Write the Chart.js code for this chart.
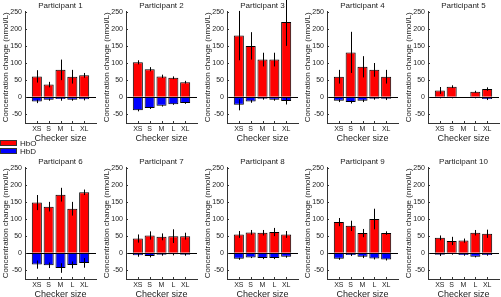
<!DOCTYPE html>
<html lang="en">
<head>
  <meta charset="UTF-8">
  <title>Checker size responses</title>
  <script src="https://cdn.jsdelivr.net/npm/chart.js"></script>
  <style>
    body {
      margin: 0;
      width: 501px;
      height: 297px;
      overflow: hidden;
      background: #fff;
      position: relative;
      font-family: 'Liberation Sans', Arial, sans-serif;
    }
    canvas { position: absolute; }
    #legend {
      position: absolute;
      left: 0;
      top: 139px;
      font-size: 8px;
      color: #222;
      z-index: 2;
    }
    #legend div { display: flex; align-items: center; height: 8px; }
    #legend span { display: inline-block; width: 17px; height: 6px; margin-right: 3px; box-sizing: border-box; border: 1px solid #333; }
  </style>
</head>
<body>
  <div id="legend">
    <div><span style="background:#ff0000"></span>HbO</div>
    <div><span style="background:#0000ff"></span>HbD</div>
  </div>
  <script>
    const categories = ['XS', 'S', 'M', 'L', 'XL'];
    const participants = ['Participant 1', 'Participant 2', 'Participant 3', 'Participant 4', 'Participant 5',
                          'Participant 6', 'Participant 7', 'Participant 8', 'Participant 9', 'Participant 10'];
    const yTicks = [-50, 0, 50, 100, 150, 200, 250];

    // one row per participant, one column per checker size
    const hboMean = [
      [61, 37, 80, 60, 64],
      [102, 82, 61, 57, 44],
      [180, 150, 110, 110, 220],
      [60, 131, 89, 80, 60],
      [20, 31, 0, 16, 24],
      [148, 136, 171, 130, 178],
      [43, 52, 48, 50, 50],
      [55, 61, 60, 62, 55],
      [91, 80, 59, 100, 59],
      [45, 36, 37, 60, 57]
    ];
    const hboErr = [
      [18, 8, 30, 20, 7],
      [6, 6, 5, 4, 4],
      [72, 40, 20, 20, 70],
      [20, 60, 31, 20, 20],
      [10, 4, 0, 3, 5],
      [22, 14, 20, 20, 8],
      [12, 12, 10, 20, 10],
      [10, 7, 8, 12, 10],
      [12, 15, 12, 30, 5],
      [7, 12, 6, 8, 12]
    ];
    const hbdMean = [
      [-12, -7, -5, -7, -6],
      [-38, -31, -25, -20, -17],
      [-22, -12, -4, -7, -11],
      [-10, -14, -10, -4, -4],
      [-2, -2, 0, -2, -5],
      [-33, -35, -43, -34, -28],
      [-6, -8, -4, -3, -4],
      [-16, -12, -14, -14, -10],
      [-16, -5, -10, -15, -18],
      [-4, -2, -5, -10, -5]
    ];
    const hbdErr = [
      [5, 3, 5, 3, 3],
      [3, 3, 2, 2, 2],
      [16, 4, 3, 3, 10],
      [4, 4, 4, 3, 4],
      [1, 1, 0, 1, 3],
      [12, 8, 14, 10, 14],
      [4, 4, 3, 3, 3],
      [3, 2, 3, 3, 3],
      [3, 3, 4, 3, 3],
      [4, 2, 2, 2, 2]
    ];

    const panelLeft = [0, 101, 202, 302, 403];
    const rowTop = [0, 156];
    const font = "'Liberation Sans', Arial, sans-serif";
    const ink = '#222';

    // pad with empty slots so the axis runs from 0 to 6 like the original
    const pad = arr => [null, ...arr, null];

    const errorBars = {
      id: 'errorBars',
      afterDatasetsDraw(chart) {
        const { ctx, scales: { x, y } } = chart;
        ctx.save();
        ctx.strokeStyle = '#000';
        ctx.lineWidth = 1;
        chart.data.datasets.forEach(ds => {
          ds.errors.forEach((e, i) => {
            const v = ds.data[i];
            if (v == null || !e) return;
            const px = Math.round(x.getPixelForValue(i)) + 0.5;
            ctx.beginPath();
            ctx.moveTo(px, y.getPixelForValue(v - e));
            ctx.lineTo(px, y.getPixelForValue(v + e));
            ctx.stroke();
          });
        });
        ctx.restore();
      }
    };

    // matlab style ticks pointing into the axes
    const innerTicks = {
      id: 'innerTicks',
      afterDraw(chart) {
        const { ctx, chartArea: a, scales: { x, y } } = chart;
        ctx.save();
        ctx.strokeStyle = '#333';
        ctx.lineWidth = 1;
        ctx.beginPath();
        categories.forEach((c, i) => {
          const px = Math.round(x.getPixelForValue(i + 1)) + 0.5;
          ctx.moveTo(px, a.bottom);
          ctx.lineTo(px, a.bottom - 2);
        });
        yTicks.forEach(v => {
          const py = Math.round(y.getPixelForValue(v)) + 0.5;
          ctx.moveTo(a.left, py);
          ctx.lineTo(a.left + 2, py);
        });
        ctx.stroke();
        ctx.restore();
      }
    };

    participants.forEach((name, p) => {
      const canvas = document.createElement('canvas');
      canvas.width = 100;
      canvas.height = 144;
      canvas.style.left = panelLeft[p % 5] + 'px';
      canvas.style.top = rowTop[Math.floor(p / 5)] + 'px';
      canvas.style.width = '100px';
      canvas.style.height = '144px';
      document.body.appendChild(canvas);

      new Chart(canvas, {
        type: 'bar',
        data: {
          labels: pad(categories).map(l => l || ''),
          datasets: [
            {
              label: 'HbO',
              data: pad(hboMean[p]),
              errors: pad(hboErr[p]),
              backgroundColor: '#ff0000',
              borderColor: '#000',
              borderWidth: 1,
              barPercentage: 0.85,
              categoryPercentage: 1
            },
            {
              label: 'HbD',
              data: pad(hbdMean[p]),
              errors: pad(hbdErr[p]),
              backgroundColor: '#0000ff',
              borderColor: '#000',
              borderWidth: 1,
              barPercentage: 0.85,
              categoryPercentage: 1
            }
          ]
        },
        options: {
          responsive: false,
          animation: false,
          events: [],
          layout: { padding: { left: 0, right: 4, top: 0, bottom: 0 } },
          plugins: {
            legend: { display: false },
            tooltip: { enabled: false },
            title: {
              display: true,
              text: name,
              fullSize: false,
              color: ink,
              font: { family: font, size: 8, weight: 'normal' },
              padding: { top: 1, bottom: 1 }
            }
          },
          scales: {
            x: {
              stacked: true,
              offset: false,
              grid: { display: false, drawTicks: false },
              border: { display: true, color: '#333' },
              ticks: { color: ink, font: { family: font, size: 7 }, padding: 2, autoSkip: false, maxRotation: 0 },
              title: { display: true, text: 'Checker size', color: ink, font: { family: font, size: 9 }, padding: 0 },
              afterFit(scale) { scale.height = 21; }
            },
            y: {
              stacked: true,
              min: -75,
              max: 250,
              afterBuildTicks(scale) { scale.ticks = yTicks.map(v => ({ value: v })); },
              grid: {
                drawTicks: false,
                color: ctx => (ctx.tick && ctx.tick.value === 0 ? '#000' : 'rgba(0,0,0,0)')
              },
              border: { display: true, color: '#333' },
              ticks: { color: ink, font: { family: font, size: 7 }, padding: 3 },
              title: { display: true, text: 'Concentration change (nmol/L)', color: ink, font: { family: font, size: 8 }, padding: 1 },
              afterFit(scale) { scale.width = 25; }
            }
          }
        },
        plugins: [errorBars, innerTicks]
      });
    });
  </script>
</body>
</html>
